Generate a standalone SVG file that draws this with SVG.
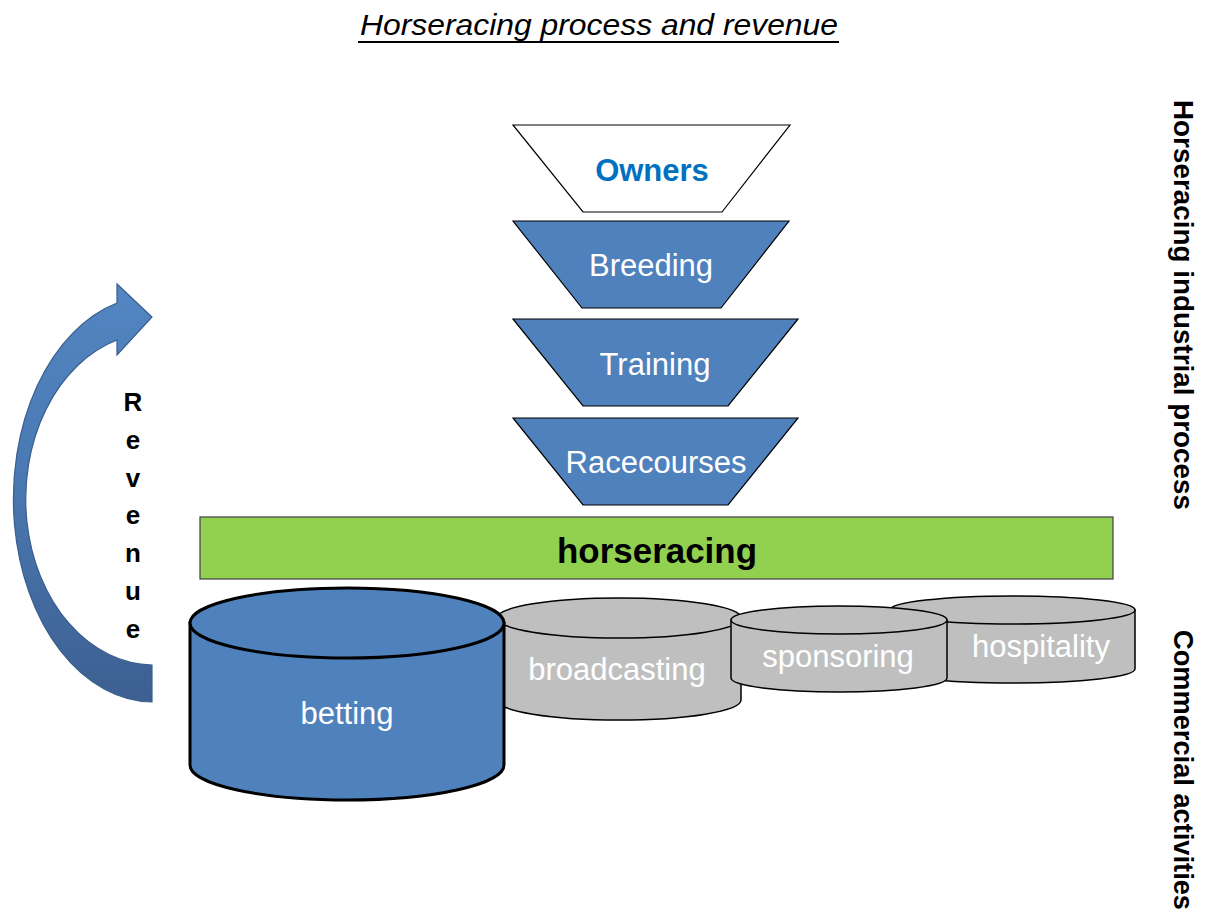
<svg xmlns="http://www.w3.org/2000/svg" width="1207" height="913" viewBox="0 0 1207 913">
<defs>
<linearGradient id="arrowGrad" x1="0" y1="0" x2="0" y2="1">
<stop offset="0" stop-color="#5286C2"/>
<stop offset="0.45" stop-color="#4A79B3"/>
<stop offset="1" stop-color="#3D5F91"/>
</linearGradient>
</defs>
<style>
.lbl{font-family:"Liberation Sans",Arial,sans-serif;font-size:31px;fill:#FFFFFF;text-anchor:middle}
.trap{fill:#4F81BD;stroke:#000000;stroke-width:1.2}
.cylg{fill:#BFBFBF;stroke:#000000;stroke-width:1.5}
.cylb{fill:#4F81BD;stroke:#000000;stroke-width:3}
.side{font-family:"Liberation Sans",Arial,sans-serif;font-size:27px;font-weight:bold;fill:#000000}
.rev{font-family:"Liberation Sans",Arial,sans-serif;font-size:26px;font-weight:bold;fill:#000000;text-anchor:middle}
</style>
<rect width="1207" height="913" fill="#FFFFFF"/>

<g id="title">
<text x="360" y="35" font-family="'Liberation Sans',Arial,sans-serif" font-size="30" font-style="italic" fill="#000000" textLength="478" lengthAdjust="spacingAndGlyphs">Horseracing process and revenue</text>
<line x1="358" y1="42" x2="839" y2="42" stroke="#000000" stroke-width="2"/>
</g>

<g id="owners">
<polygon points="513,125 790,125 722,212 583,212" fill="#FFFFFF" stroke="#000000" stroke-width="1.2"/>
<text x="652" y="181" font-family="'Liberation Sans',Arial,sans-serif" font-size="31" font-weight="bold" fill="#0070C0" text-anchor="middle">Owners</text>
</g>
<g id="breeding">
<polygon class="trap" points="513,221 789,221 721,308 582,308"/>
<text class="lbl" x="651" y="276">Breeding</text>
</g>
<g id="training">
<polygon class="trap" points="513,319 798,319 728,406 583,406"/>
<text class="lbl" x="655" y="375">Training</text>
</g>
<g id="racecourses">
<polygon class="trap" points="513,418 798,418 728,505 583,505"/>
<text class="lbl" x="656" y="473">Racecourses</text>
</g>

<g id="horseracing">
<rect x="200" y="517" width="913" height="62" fill="#92D050" stroke="#404040" stroke-width="1.2"/>
<text x="657" y="563" font-family="'Liberation Sans',Arial,sans-serif" font-size="35" font-weight="bold" fill="#000000" text-anchor="middle" textLength="200" lengthAdjust="spacingAndGlyphs">horseracing</text>
</g>

<g id="hospitality">
<path class="cylg" d="M890,610 L890,669 A122.5,14 0 0 0 1135,669 L1135,610 Z"/>
<ellipse class="cylg" cx="1012.5" cy="610" rx="122.5" ry="14"/>
<text class="lbl" x="1041" y="657">hospitality</text>
</g>
<g id="broadcasting">
<path class="cylg" d="M497,618 L497,700 A122,20 0 0 0 741,700 L741,618 Z"/>
<ellipse class="cylg" cx="619" cy="618" rx="122" ry="20"/>
<text class="lbl" x="617" y="680">broadcasting</text>
</g>
<g id="sponsoring">
<path class="cylg" d="M731,620 L731,678 A108,14 0 0 0 947,678 L947,620 Z"/>
<ellipse class="cylg" cx="839" cy="620" rx="108" ry="14"/>
<text class="lbl" x="838" y="667">sponsoring</text>
</g>
<g id="betting">
<path class="cylb" d="M190,623 L190,765 A157,35 0 0 0 504,765 L504,623 Z"/>
<ellipse class="cylb" cx="347" cy="623" rx="157" ry="35"/>
<text class="lbl" x="347" y="724">betting</text>
</g>

<g id="revenue-arrow">
<path d="M152,702 A140,203 0 0 1 117,303 L117,284 L152,317 L117,355 L117,340 A128,166 0 0 0 152,665 Z" fill="url(#arrowGrad)" stroke="#3A5E8C" stroke-width="1.2"/>
<text class="rev" x="133" y="411">R</text>
<text class="rev" x="133" y="449">e</text>
<text class="rev" x="133" y="487">v</text>
<text class="rev" x="133" y="524">e</text>
<text class="rev" x="133" y="562">n</text>
<text class="rev" x="133" y="600">u</text>
<text class="rev" x="133" y="638">e</text>
</g>

<g id="side-labels">
<text class="side" transform="translate(1174,100) rotate(90)" textLength="410" lengthAdjust="spacingAndGlyphs">Horseracing industrial process</text>
<text class="side" transform="translate(1174,630) rotate(90)" textLength="280" lengthAdjust="spacingAndGlyphs">Commercial activities</text>
</g>
<g id="connectors"></g>
</svg>
